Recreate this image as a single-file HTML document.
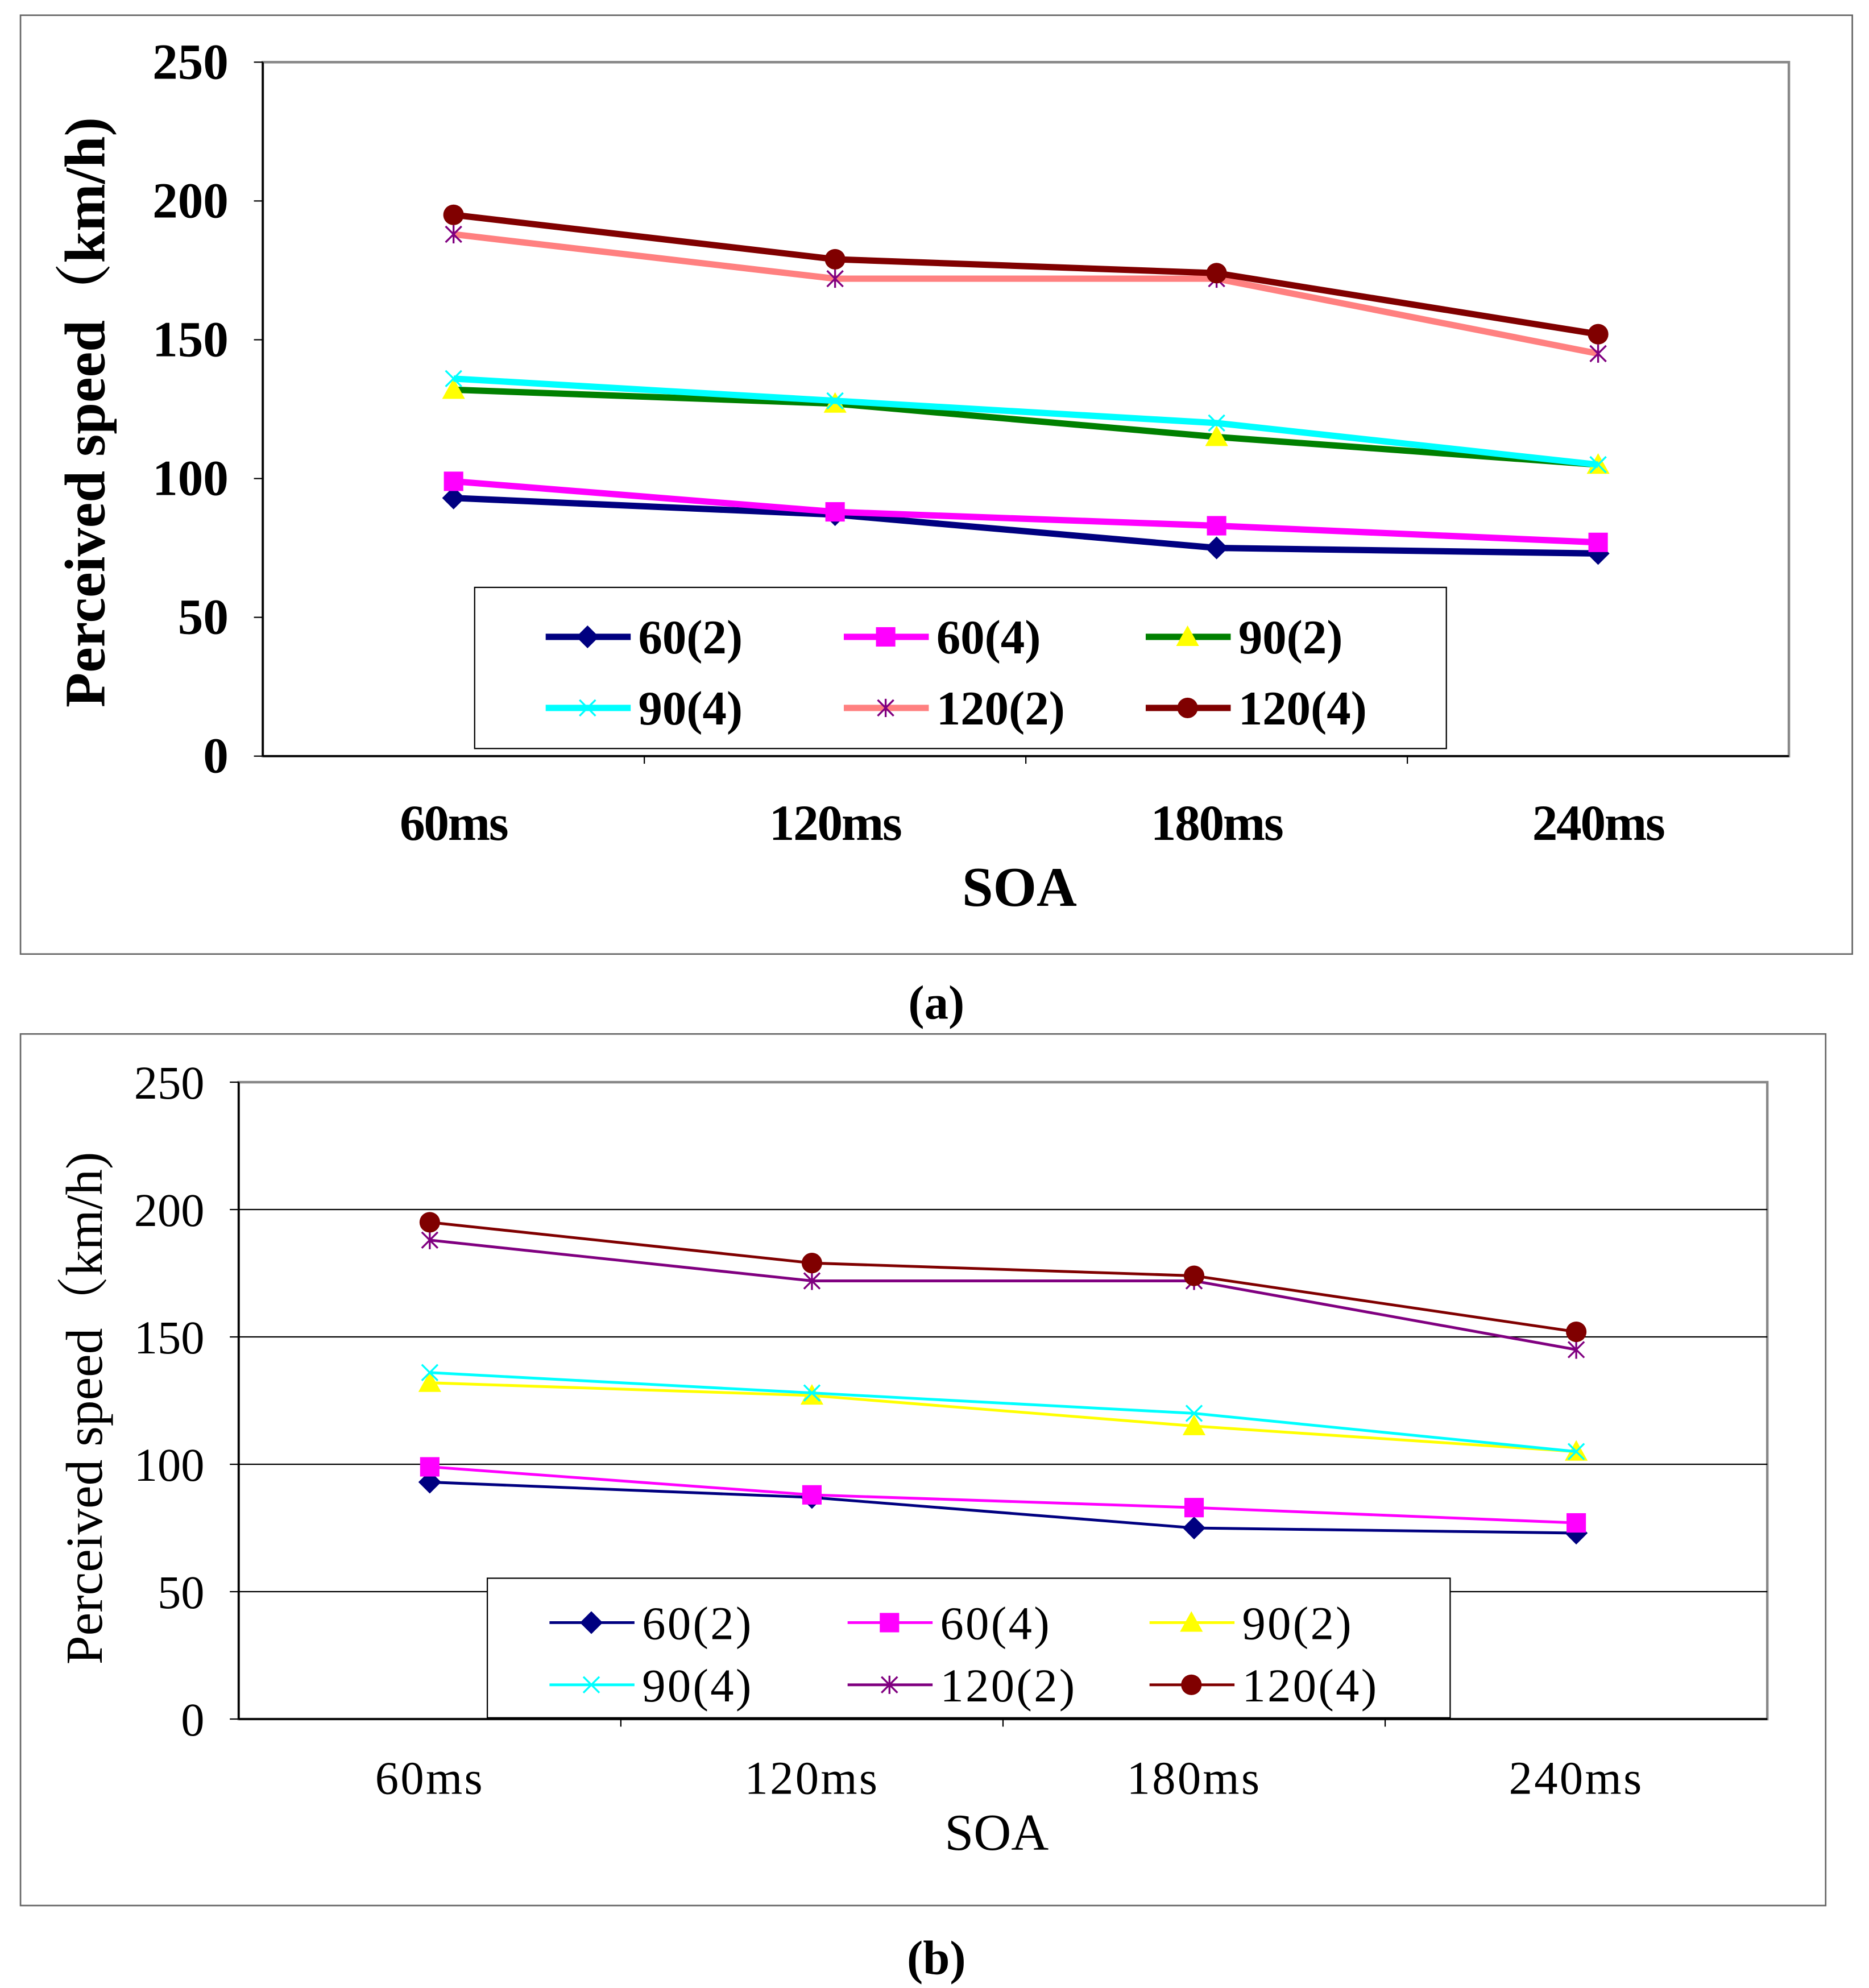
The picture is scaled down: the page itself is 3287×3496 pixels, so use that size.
<!DOCTYPE html>
<html><head><meta charset="utf-8"><style>
html,body{margin:0;padding:0;background:#fff}
svg{display:block}
text{font-family:"Liberation Serif","Noto Serif CJK SC",serif}
</style></head><body>
<svg id="chart" width="3287" height="3496" viewBox="0 0 1473 1567" xmlns="http://www.w3.org/2000/svg">
<rect width="1473" height="1567" fill="#fff"/>
<text x="738" y="803" font-size="38" font-weight="bold" text-anchor="middle">(a)</text>
<text x="738" y="1556" font-size="38" font-weight="bold" text-anchor="middle">(b)</text>
</svg>
<script>
const categories = ["60ms","120ms","180ms","240ms"];
const seriesNames = ["60(2)","60(4)","90(2)","90(4)","120(2)","120(4)"];
const s60_2 = [93,87,75,73];
const s60_4 = [99,88,83,77];
const s90_2 = [132,127,115,105];
const s90_4 = [136,128,120,105];
const s120_2 = [188,172,172,145];
const s120_4 = [195,179,174,152];
const yTicks = [0,50,100,150,200,250];
const seriesValues = [s60_2,s60_4,s90_2,s90_4,s120_2,s120_4];
const markers = ["diamond","square","triangle","x","star","circle"];

const svg = document.getElementById('chart');
const NS = "http://www.w3.org/2000/svg";
function mk(tag, attrs, parent){const e=document.createElementNS(NS,tag);for(const k in attrs)e.setAttribute(k,attrs[k]);(parent||svg).appendChild(e);return e;}

function marker(g,type,x,y,c,sz){
  let e;
  if(type==="diamond") e=mk('polygon',{points:`${x},${y-sz} ${x+sz},${y} ${x},${y+sz} ${x-sz},${y}`,fill:c},g);
  else if(type==="square") e=mk('rect',{x:x-sz*0.85,y:y-sz*0.85,width:sz*1.7,height:sz*1.7,fill:c},g);
  else if(type==="triangle") e=mk('polygon',{points:`${x},${y-sz} ${x+sz},${y+sz*0.8} ${x-sz},${y+sz*0.8}`,fill:c},g);
  else if(type==="circle") e=mk('circle',{cx:x,cy:y,r:sz*0.9,fill:c},g);
  else if(type==="x") e=mk('path',{d:`M${x-sz*0.7},${y-sz*0.7}L${x+sz*0.7},${y+sz*0.7}M${x-sz*0.7},${y+sz*0.7}L${x+sz*0.7},${y-sz*0.7}`,stroke:c,'stroke-width':1.5,fill:'none'},g);
  else e=mk('path',{d:`M${x-sz*0.7},${y-sz*0.7}L${x+sz*0.7},${y+sz*0.7}M${x-sz*0.7},${y+sz*0.7}L${x+sz*0.7},${y-sz*0.7}M${x},${y-sz*0.8}L${x},${y+sz*0.8}`,stroke:c,'stroke-width':1.5,fill:'none'},g);
  return e;
}

function panel(cfg){
  const g = mk('g',{});
  
  
  const frame = mk('rect',{x:cfg.ox,y:cfg.oy,width:cfg.ow,height:cfg.oh,fill:'#fff',stroke:'#666','stroke-width':1.2},g);
  
  
  const P=cfg.plot;
  const yS=v=>P.y1-(v/250)*(P.y1-P.y0);
  const band=(P.x1-P.x0)/categories.length;
  const xS=i=>P.x0+band*(i+0.5)+cfg.xoff;
  mk('rect',{x:P.x0,y:P.y0,width:P.x1-P.x0,height:P.y1-P.y0,fill:'none',stroke:'#888','stroke-width':2},g);
  if(cfg.grid){
    yTicks.forEach(t=>{ if(t>0&&t<250){const l=mk('line',{x1:P.x0,x2:P.x1,y1:yS(t),y2:yS(t),stroke:'#000','stroke-width':1},g);
      
      }});
  }
  mk('line',{x1:P.x0,x2:P.x0,y1:P.y0,y2:P.y1,stroke:'#000','stroke-width':1.5},g);
  mk('line',{x1:P.x0,x2:P.x1,y1:P.y1,y2:P.y1,stroke:'#000','stroke-width':1.5},g);
  yTicks.forEach(t=>{
    mk('line',{x1:P.x0-7,x2:P.x0,y1:yS(t),y2:yS(t),stroke:'#000'},g);
    const tx=mk('text',{x:cfg.ytickX,y:yS(t)+13,'font-size':cfg.tfs,'font-weight':cfg.bold?'bold':'normal','text-anchor':'end'},g);
    tx.textContent=t;
    
    
  });
  for(let i=1;i<categories.length;i++) mk('line',{x1:P.x0+band*i,x2:P.x0+band*i,y1:P.y1,y2:P.y1+6,stroke:'#000'},g);
  categories.forEach((c,i)=>{
    const tx=mk('text',{x:P.x0+band*(i+0.5),y:cfg.xly,'font-size':cfg.tfs,'font-weight':cfg.bold?'bold':'normal','text-anchor':'middle','letter-spacing':cfg.bold?-1:1.5},g);
    tx.textContent=c;
    
    
  });
  const xt=mk('text',{x:(P.x0+P.x1)/2-5,y:cfg.xty,'font-size':cfg.tfs+4,'font-weight':cfg.bold?'bold':'normal','text-anchor':'middle'},g);
  xt.textContent='SOA';
  
  
  const yt=mk('text',{x:0,y:0,'font-size':cfg.ytfs,'font-weight':cfg.bold?'bold':'normal','text-anchor':'middle',transform:`translate(${cfg.ytx},${cfg.ytcy}) rotate(-90)`},g);
  yt.textContent='Perceived speed（km/h)';
  
  
  seriesValues.forEach((vals,si)=>{
    const c=cfg.colors[si], mc=cfg.mcolors[si];
    const sg=mk('g',{},g);
    
    
    mk('polyline',{points:vals.map((v,i)=>`${xS(i)},${yS(v)}`).join(' '),fill:'none',stroke:c,'stroke-width':cfg.lw,'stroke-linejoin':'round'},sg);
    vals.forEach((v,i)=>{const m=marker(sg,markers[si],xS(i),yS(v),mc,cfg.ms);
      
      });
  });
  const L=cfg.legend;
  const lg=mk('g',{},g);
  
  
  mk('rect',{x:L.x,y:L.y,width:L.w,height:L.h,fill:'#fff',stroke:'#000','stroke-width':1},lg);
  seriesNames.forEach((n,si)=>{
    const col=si%3,row=Math.floor(si/3);
    const lx=L.cols[col], ly=L.rows[row], c=cfg.colors[si];
    const eg=mk('g',{},lg);
    
    
    mk('line',{x1:lx,x2:lx+67,y1:ly,y2:ly,stroke:c,'stroke-width':cfg.lw},eg);
    marker(eg,markers[si],lx+33,ly,cfg.mcolors[si],cfg.ms);
    const t=mk('text',{x:lx+73,y:ly+13,'font-size':cfg.lfs,'font-weight':cfg.bold?'bold':'normal','letter-spacing':cfg.bold?0:1.5},eg);
    t.textContent=n;
  });
}

panel({name:'chart-a',ox:16,oy:12,ow:1444,oh:740,plot:{x0:207,x1:1410,y0:49,y1:596},xoff:0,grid:false,
  tfs:40,lfs:38,ytfs:45,bold:true,ytickX:180,xly:662,xty:714,ytx:82,ytcy:325,lw:5,ms:9,
  colors:['#000080','#FF00FF','#008000','#00FFFF','#FF8080','#800000'],
  mcolors:['#000080','#FF00FF','#FFFF00','#00FFFF','#800080','#800000'],
  legend:{x:374,y:463,w:766,h:127,cols:[430,665,903],rows:[502,558]}});
panel({name:'chart-b',ox:16,oy:815,ow:1423,oh:687,plot:{x0:188,x1:1393,y0:853,y1:1355},xoff:0,grid:true,
  tfs:37,lfs:37,ytfs:41,bold:false,ytickX:161,xly:1414,xty:1458,ytx:80,ytcy:1110,lw:2.2,ms:9,
  colors:['#000080','#FF00FF','#FFFF00','#00FFFF','#800080','#800000'],
  mcolors:['#000080','#FF00FF','#FFFF00','#00FFFF','#800080','#800000'],
  legend:{x:384,y:1244,w:759,h:110,cols:[433,668,906],rows:[1279,1328]}});
</script>
</body></html>
